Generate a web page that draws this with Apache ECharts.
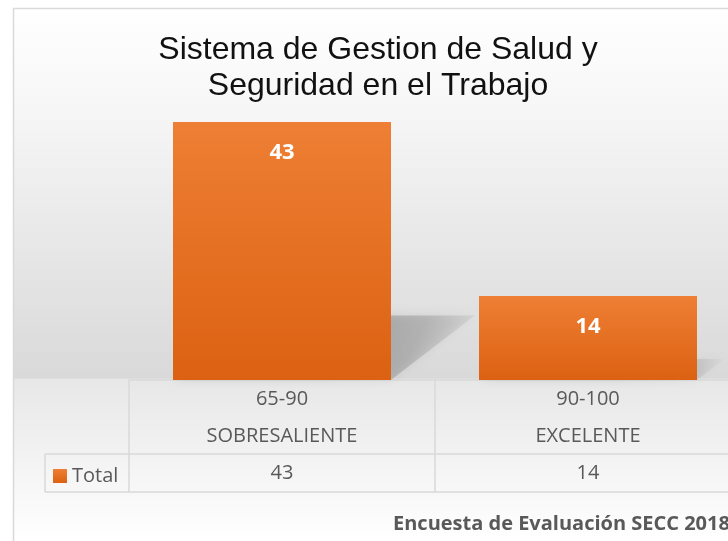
<!DOCTYPE html>
<html>
<head>
<meta charset="utf-8">
<script src="https://cdn.jsdelivr.net/npm/echarts@6/dist/echarts.min.js"></script>
<style>
  html, body { margin: 0; padding: 0; background: #ffffff; }
  #main { width: 728px; height: 541px; }
</style>
</head>
<body>
<div id="main"></div>
<script>
// datos de la encuesta
const ranges = ["65-90", "90-100"];
const levels = ["SOBRESALIENTE", "EXCELENTE"];
const totals = [43, 14];
const seriesName = "Total";

const txtGray = "#595959";
const lineGray = "#d9d9d9";

const barColor = new echarts.graphic.LinearGradient(0, 0, 0, 1, [
  { offset: 0, color: "#ee7f34" },
  { offset: 1, color: "#dc6112" },
]);

const option = {
  animation: false,
  title: {
    text: "Sistema de Gestion de Salud y\nSeguridad en el Trabajo",
    left: 373,
    top: 27,
    textAlign: "center",
    textStyle: {
      fontFamily: "Liberation Sans",
      fontSize: 32,
      fontWeight: "normal",
      color: "#111111",
      lineHeight: 36,
    },
  },
  legend: {
    left: 48,
    top: 461,
    itemWidth: 14,
    itemHeight: 14,
    itemGap: 6,
    icon: "rect",
    data: [seriesName],
    textStyle: { fontFamily: "Open Sans", fontSize: 20, color: txtGray },
  },
  grid: { left: 129, top: 80, width: 612, height: 300, outerBoundsMode: "none" },
  xAxis: [
    {
      type: "category",
      data: ranges,
      axisLine: { lineStyle: { color: lineGray, width: 1.5 } },
      axisTick: { show: true, length: 112, lineStyle: { color: lineGray, width: 1.5 } },
      axisLabel: {
        margin: 1,
        fontFamily: "Open Sans",
        fontSize: 20,
        color: txtGray,
        lineHeight: 37,
        formatter: function (v, i) {
          return v + "\n" + levels[i];
        },
      },
    },
    {
      type: "category",
      position: "bottom",
      offset: 74,
      data: totals.map(String),
      axisLine: { show: false },
      axisTick: { show: false },
      axisLabel: {
        margin: 1,
        fontFamily: "Open Sans",
        fontSize: 20,
        color: txtGray,
        lineHeight: 37,
      },
    },
  ],
  yAxis: { type: "value", min: 0, max: 50, show: false, splitLine: { show: false } },
  series: [
    {
      // sombra en perspectiva detras de cada barra
      type: "custom",
      z: 1,
      silent: true,
      data: totals.map(function (v, i) { return [i, v]; }),
      renderItem: function (params, api) {
        const base = api.coord([api.value(0), 0]);
        const top = api.coord([api.value(0), api.value(1)]);
        const w = api.size([1, 0])[0] * 0.712;
        const h = (base[1] - top[1]) * 0.25;
        const dx = h * 1.3;
        const x0 = base[0] - w / 2, x1 = base[0] + w / 2, y0 = base[1];
        return {
          type: "polygon",
          shape: { points: [[x0, y0], [x1, y0], [x1 + dx, y0 - h], [x0 + dx, y0 - h]] },
          style: {
            fill: new echarts.graphic.LinearGradient(0.6, 0, 1, 0.9, [
              { offset: 0, color: "rgba(0,0,0,0.2)" },
              { offset: 0.5, color: "rgba(0,0,0,0.14)" },
              { offset: 1, color: "rgba(0,0,0,0)" },
            ]),
            shadowBlur: 10,
            shadowColor: "rgba(0,0,0,0.5)",
          },
        };
      },
    },
    {
      name: seriesName,
      type: "bar",
      z: 3,
      data: totals,
      barWidth: 218,
      itemStyle: { color: barColor },
      label: {
        show: true,
        position: "insideTop",
        distance: 20,
        fontFamily: "Open Sans",
        fontWeight: "bold",
        fontSize: 22,
        color: "#ffffff",
      },
    },
  ],
  graphic: [
    {
      type: "rect",
      z: -10,
      shape: { x: 13.5, y: 8.5, width: 740, height: 560 },
      style: {
        fill: new echarts.graphic.LinearGradient(0, 0, 0, 1, [
          { offset: 0, color: "#ffffff" },
          { offset: 0.15, color: "#f8f8f8" },
          { offset: 0.66, color: "#d9d9d9" },
          { offset: 0.661, color: "#e7e7e7" },
          { offset: 0.95, color: "#ffffff" },
          { offset: 1, color: "#ffffff" },
        ]),
        stroke: lineGray,
        lineWidth: 1.5,
      },
    },
    { type: "line", z: 5, shape: { x1: 45, y1: 454, x2: 741, y2: 454 }, style: { stroke: lineGray, lineWidth: 1.5 } },
    { type: "line", z: 5, shape: { x1: 45, y1: 492, x2: 741, y2: 492 }, style: { stroke: lineGray, lineWidth: 1.5 } },
    { type: "line", z: 5, shape: { x1: 45, y1: 454, x2: 45, y2: 492 }, style: { stroke: lineGray, lineWidth: 1.5 } },
    {
      type: "text",
      z: 5,
      left: 393,
      top: 514,
      style: {
        text: "Encuesta de Evaluación SECC 2018",
        fontFamily: "Open Sans",
        fontWeight: "bold",
        fontSize: 20,
        fill: txtGray,
      },
    },
  ],
};

const myChart = echarts.init(document.getElementById("main"));
myChart.setOption(option);
</script>
</body>
</html>
